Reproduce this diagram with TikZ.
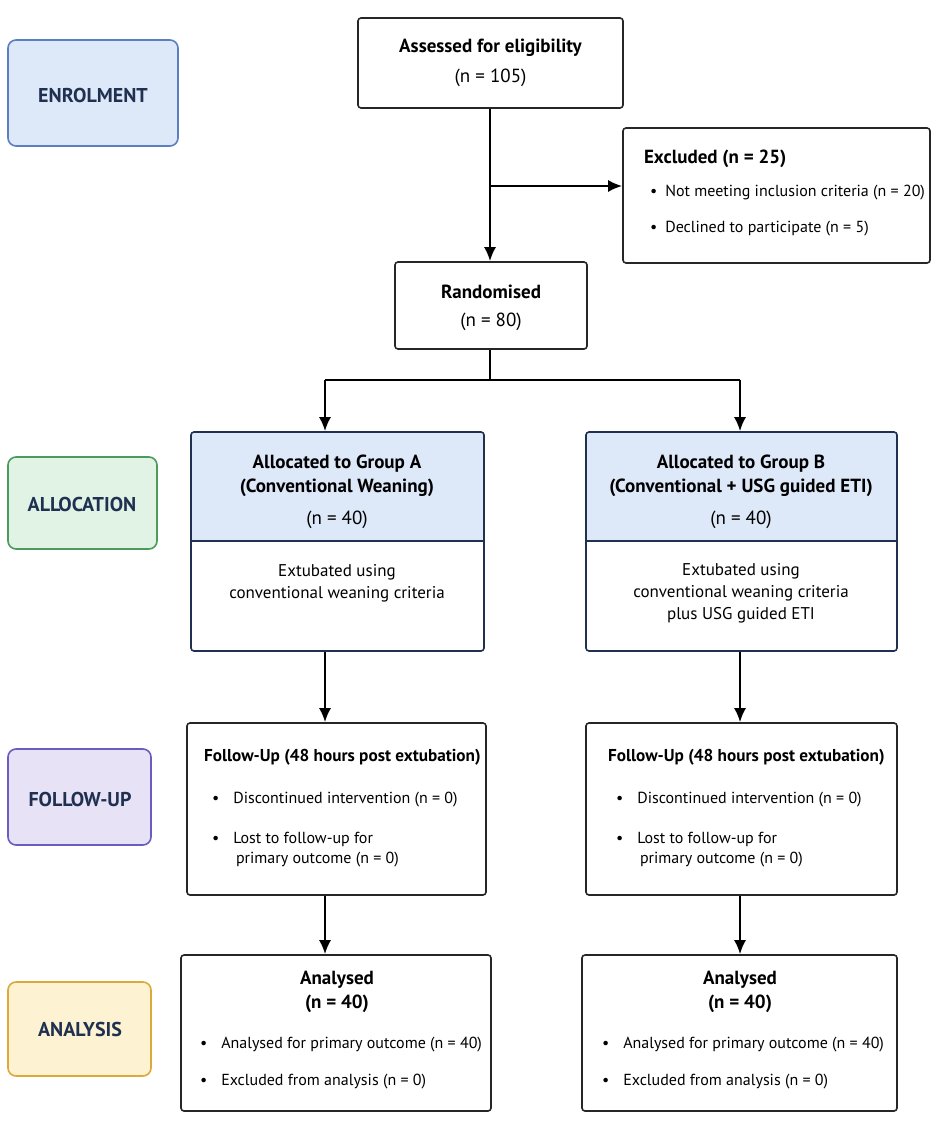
\documentclass[tikz,border=0pt]{standalone}
\usepackage{fontspec}
\setmainfont{PT Sans}
\usetikzlibrary{arrows.meta}
\definecolor{bl}{HTML}{DDE8F8}\definecolor{blb}{HTML}{5B7FC0}
\definecolor{gr}{HTML}{E0F3E4}\definecolor{grb}{HTML}{4C9A5E}
\definecolor{pu}{HTML}{E8E2F7}\definecolor{pub}{HTML}{6D5CC0}
\definecolor{ye}{HTML}{FDF2D2}\definecolor{yeb}{HTML}{DDAA3A}
\definecolor{nav}{HTML}{1F3050}
\begin{document}
\begin{tikzpicture}[x=0.5pt,y=-0.5pt,
 box/.style={draw=black!85,line width=0.8pt,rounded corners=1.5pt,inner sep=0pt},
 stage/.style={rounded corners=4pt,line width=0.8pt,font=\fontsize{10}{12}\selectfont\bfseries,text=nav},
 ttl/.style={font=\fontsize{9.5}{12}\selectfont\bfseries,align=center},
 txt/.style={font=\fontsize{8.5}{11}\selectfont,align=center},
 itm/.style={font=\fontsize{8}{10}\selectfont,anchor=west},
 arr/.style={line width=1pt,-{Latex[length=7pt,width=6pt]}}]
\useasboundingbox (0,0) rectangle (948,1135);
% stages
\draw[stage,fill=bl,draw=blb] (8,40) rectangle (178,146); \node[stage] (s1) at (93,95) {ENROLMENT};
\draw[stage,fill=gr,draw=grb] (8,457) rectangle (157,549); \node[stage] (s2) at (82,504) {ALLOCATION};
\draw[stage,fill=pu,draw=pub] (8,749) rectangle (151,845); \node[stage] (s3) at (80,799) {FOLLOW-UP};
\draw[stage,fill=ye,draw=yeb] (8,982) rectangle (151,1076); \node[stage] (s4) at (80,1029) {ANALYSIS};
% assessed
\node[box,minimum width=132.5pt,minimum height=45pt] (ass) at (490.5,63) {};
\node[ttl] at (490.5,48) {Assessed for eligibility};
\node[txt,font=\fontsize{9.5}{12}\selectfont] at (490.5,78) {(n = 105)};
% excluded
\node[box,minimum width=153.5pt,minimum height=67.5pt] (exc) at (776.5,195.5) {};
\node[ttl,anchor=west] at (637,159) {Excluded (n = 25)};
\node[itm] at (643,193) {\textbullet\hspace{4pt}Not meeting inclusion criteria (n = 20)};
\node[itm] at (643,229) {\textbullet\hspace{4pt}Declined to participate (n = 5)};
% randomised
\node[box,minimum width=96pt,minimum height=43.5pt] (ran) at (491,305.5) {};
\node[ttl] at (491,292) {Randomised};
\node[txt,font=\fontsize{9.5}{12}\selectfont] at (491,322) {(n = 80)};
\coordinate (br) at (490,186);
\draw[line width=1pt] (ass.south -| br) -- (br);
\draw[arr] (ass.south -| br) -- (ran.north -| br);
\draw[arr] (br) -- (exc.west |- br);
% groups
\foreach \n/\xa/\xb in {ga/191/484, gb/586/897}{
 \fill[bl,rounded corners=1.5pt] (\xa,432) rectangle (\xb,541);
 \draw[line width=0.8pt,draw=nav] (\xa,541) -- (\xb,541);
 \node[box,draw=nav,minimum width={(\xb-\xa)*0.5pt},minimum height=109.5pt] (\n) at ({(\xa+\xb)/2},541.5) {};
}
\node[ttl] at (337,476) {Allocated to Group A\\(Conventional Weaning)};
\node[txt,font=\fontsize{9.5}{12}\selectfont] at (337,520) {(n = 40)};
\node[txt] at (337,583) {Extubated using\\conventional weaning criteria};
\node[ttl] at (741,476) {Allocated to  Group B\\(Conventional + USG guided ETI)};
\node[txt,font=\fontsize{9.5}{12}\selectfont] at (741,520) {(n = 40)};
\node[txt] at (741,593) {Extubated using\\conventional weaning criteria\\plus USG guided ETI};
\draw[line width=1pt] (ran.south -| 490,0) -- (490,380) coordinate (m);
\coordinate (ma) at (325,380); \coordinate (mb) at (740,380);
\draw[line width=1pt] (ma) -- (mb);
\draw[arr] (ma) -- (ma |- ga.north);
\draw[arr] (mb) -- (mb |- gb.north);
% follow-up
\node[box,minimum width=149.5pt,minimum height=86pt] (fa) at (336.5,809) {};
\node[box,minimum width=155.5pt,minimum height=86pt] (fb) at (741.5,809) {};
\foreach \c/\x in {fa/197, fb/601}{
 \node[ttl,anchor=west,font=\fontsize{8.6}{11}\selectfont\bfseries] at (\x,757) {Follow-Up (48 hours post extubation)};
 \node[itm] at (\x+8,800) {\textbullet\hspace{7pt}Discontinued intervention (n = 0)};
 \node[itm,align=left] at (\x+8,850) {\textbullet\hspace{7pt}Lost to follow-up for\\\hspace{12pt}primary outcome (n = 0)};
}
\draw[arr] (ga.south -| ma) -- (fa.north -| ma);
\draw[arr] (gb.south -| mb) -- (fb.north -| mb);
% analysed
\node[box,minimum width=155pt,minimum height=78pt] (aa) at (336,1033) {};
\node[box,minimum width=157.5pt,minimum height=78pt] (ab) at (739.5,1033) {};
\foreach \c/\x/\cx in {aa/193/337, ab/595/740}{
 \node[ttl] at (\cx,992) {Analysed\\(n = 40)};
 \node[itm] at (\x,1045) {\textbullet\hspace{7pt}Analysed for primary outcome (n = 40)};
 \node[itm] at (\x,1082) {\textbullet\hspace{7pt}Excluded from analysis (n = 0)};
}
\draw[arr] (fa.south -| ma) -- (aa.north -| ma);
\draw[arr] (fb.south -| mb) -- (ab.north -| mb);
\end{tikzpicture}
\end{document}
